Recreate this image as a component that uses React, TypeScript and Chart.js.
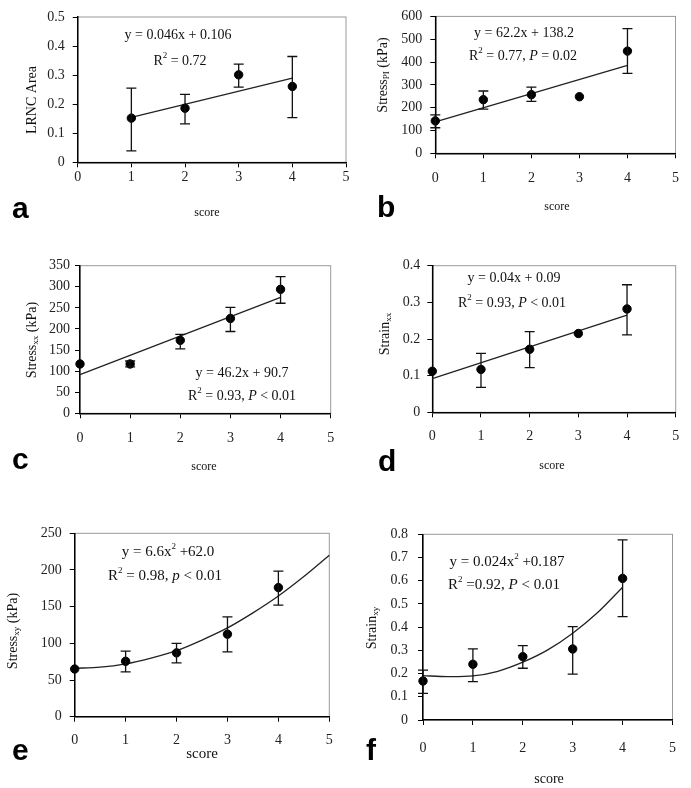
import React, { useEffect, useRef } from 'react';
import { Chart, registerables } from 'chart.js';
Chart.register(...registerables);

const PAGE_W = 691;
const PAGE_H = 788;
const SERIF = '"Liberation Serif", "Times New Roman", serif';
const SANS = '"Liberation Sans", Arial, sans-serif';

// ---- shared axis ----
const scoreTicks = [0, 1, 2, 3, 4, 5];

// ---- panel a: LRNC area ----
const aScore = [1, 2, 3, 4];
const aMean = [0.152, 0.186, 0.301, 0.261];
const aLo = [0.039, 0.132, 0.259, 0.154];
const aHi = [0.255, 0.234, 0.338, 0.364];
const aFitX = [1, 4];
const aFitY = [0.155, 0.29];

// ---- panel b: Stress PI ----
const bScore = [0, 1, 2, 3, 4];
const bMean = [142, 235, 257, 248, 448];
const bLo = [112, 194, 228, null, 350];
const bHi = [168, 273, 290, null, 546];
const bFitX = [0, 4];
const bFitY = [137.5, 385.5];

// ---- panel c: Stress xx ----
const cScore = [0, 1, 2, 3, 4];
const cMean = [117, 117, 173, 225, 294];
const cLo = [null, 110, 153, 194, 261];
const cHi = [null, 124, 187, 251, 324];
const cFitX = [0, 4];
const cFitY = [91.5, 275];

// ---- panel d: Strain xx ----
const dScore = [0, 1, 2, 3, 4];
const dMean = [0.112, 0.117, 0.172, 0.215, 0.282];
const dLo = [null, 0.068, 0.122, null, 0.211];
const dHi = [null, 0.161, 0.22, null, 0.348];
const dFitX = [0, 4];
const dFitY = [0.092, 0.265];

// ---- panel e: Stress xy ----
const eScore = [0, 1, 2, 3, 4];
const eMean = [65, 75.5, 87, 112.5, 176];
const eLo = [null, 61, 73.5, 88.5, 152];
const eHi = [null, 89.5, 100, 136, 198.5];
const eFitX = [0, 0.5, 1, 1.5, 2, 2.5, 3, 3.5, 4, 4.5, 5];
const eFitY = [66, 67.5, 72, 80, 90, 104.5, 121, 141.5, 164.5, 191, 220];

// ---- panel f: Strain xy ----
const fScore = [0, 1, 2, 3, 4];
const fMean = [0.168, 0.24, 0.273, 0.306, 0.61];
const fLo = [0.115, 0.165, 0.223, 0.198, 0.445];
const fHi = [0.215, 0.306, 0.32, 0.402, 0.776];
const fFitX = [0, 0.5, 1, 1.5, 2, 2.5, 3, 3.5, 4];
const fFitY = [0.191, 0.187, 0.19, 0.21, 0.249, 0.302, 0.374, 0.463, 0.572];

type Seg = { t: string; i?: boolean; sup?: boolean; sub?: boolean };

function drawRich(ctx: CanvasRenderingContext2D, segs: Seg[], cx: number, cy: number, size: number) {
  const fontFor = (s: Seg) =>
    `${s.i ? 'italic ' : ''}${s.sup || s.sub ? Math.round(size * 0.62) : size}px ${SERIF}`;
  let total = 0;
  for (const s of segs) {
    ctx.font = fontFor(s);
    total += ctx.measureText(s.t).width;
  }
  let x = cx - total / 2;
  ctx.textBaseline = 'middle';
  ctx.textAlign = 'left';
  for (const s of segs) {
    ctx.font = fontFor(s);
    const dy = s.sup ? -size * 0.38 : s.sub ? size * 0.28 : 0;
    ctx.fillText(s.t, x, cy + dy);
    x += ctx.measureText(s.t).width;
  }
}

type Panel = {
  xs: number[]; ys: number[]; lo: (number | null)[]; hi: (number | null)[];
  fitX: number[]; fitY: number[]; curve: boolean;
  yMax: number; yStep: number;
  area: [number, number, number, number];
  xPad: number; yPad: number;
  yTitle: Seg[]; yTitlePos: [number, number];
  eq1: Seg[]; eq1Pos: [number, number];
  eq2: Seg[]; eq2Pos: [number, number]; eqSize: number;
  letter: string; letterPos: [number, number];
  scorePos: [number, number]; scoreSize: number;
};

const R2 = (rest: Seg[]): Seg[] => [{ t: 'R' }, { t: '2', sup: true }, ...rest];

const panels: Panel[] = [
  {
    xs: aScore, ys: aMean, lo: aLo, hi: aHi, fitX: aFitX, fitY: aFitY, curve: false,
    yMax: 0.5, yStep: 0.1, area: [77.7, 17, 346, 162.3], xPad: 2, yPad: 8,
    yTitle: [{ t: 'LRNC Area' }], yTitlePos: [32, 100],
    eq1: [{ t: 'y = 0.046x + 0.106' }], eq1Pos: [178, 35],
    eq2: R2([{ t: ' = 0.72' }]), eq2Pos: [180, 61], eqSize: 14,
    letter: 'a', letterPos: [12, 218], scorePos: [207, 213], scoreSize: 12,
  },
  {
    xs: bScore, ys: bMean, lo: bLo, hi: bHi, fitX: bFitX, fitY: bFitY, curve: false,
    yMax: 600, yStep: 100, area: [435.3, 10.7, 685, 153.3], xPad: 12, yPad: 8,
    yTitle: [{ t: 'Stress' }, { t: 'PI', sub: true }, { t: ' (kPa)' }], yTitlePos: [383, 75],
    eq1: [{ t: 'y = 62.2x + 138.2' }], eq1Pos: [524, 33],
    eq2: R2([{ t: ' = 0.77, ' }, { t: 'P', i: true }, { t: ' = 0.02' }]), eq2Pos: [523, 56], eqSize: 14,
    letter: 'b', letterPos: [377, 217], scorePos: [557, 207], scoreSize: 12,
  },
  {
    xs: cScore, ys: cMean, lo: cLo, hi: cHi, fitX: cFitX, fitY: cFitY, curve: false,
    yMax: 350, yStep: 50, area: [80, 265.7, 330.7, 413.3], xPad: 12, yPad: 5,
    yTitle: [{ t: 'Stress' }, { t: 'xx', sub: true }, { t: ' (kPa)' }], yTitlePos: [32, 340],
    eq1: [{ t: 'y = 46.2x + 90.7' }], eq1Pos: [242, 373],
    eq2: R2([{ t: ' = 0.93, ' }, { t: 'P', i: true }, { t: ' < 0.01' }]), eq2Pos: [242, 396], eqSize: 14,
    letter: 'c', letterPos: [12, 469], scorePos: [204, 467], scoreSize: 12,
  },
  {
    xs: dScore, ys: dMean, lo: dLo, hi: dHi, fitX: dFitX, fitY: dFitY, curve: false,
    yMax: 0.4, yStep: 0.1, area: [432.3, 265.7, 675.7, 412.3], xPad: 11, yPad: 7,
    yTitle: [{ t: 'Strain' }, { t: 'xx', sub: true }], yTitlePos: [385, 334],
    eq1: [{ t: 'y = 0.04x + 0.09' }], eq1Pos: [514, 278],
    eq2: R2([{ t: ' = 0.93, ' }, { t: 'P', i: true }, { t: ' < 0.01' }]), eq2Pos: [512, 303], eqSize: 14,
    letter: 'd', letterPos: [378, 471], scorePos: [552, 466], scoreSize: 12,
  },
  {
    xs: eScore, ys: eMean, lo: eLo, hi: eHi, fitX: eFitX, fitY: eFitY, curve: true,
    yMax: 250, yStep: 50, area: [74.7, 533.3, 329.3, 716.7], xPad: 10, yPad: 8,
    yTitle: [{ t: 'Stress' }, { t: 'xy', sub: true }, { t: ' (kPa)' }], yTitlePos: [13, 631],
    eq1: [{ t: 'y = 6.6x' }, { t: '2', sup: true }, { t: ' +62.0' }], eq1Pos: [168, 552],
    eq2: R2([{ t: ' = 0.98, ' }, { t: 'p', i: true }, { t: ' < 0.01' }]), eq2Pos: [165, 576], eqSize: 15,
    letter: 'e', letterPos: [12, 760], scorePos: [202, 754], scoreSize: 15,
  },
  {
    xs: fScore, ys: fMean, lo: fLo, hi: fHi, fitX: fFitX, fitY: fFitY, curve: true,
    yMax: 0.8, yStep: 0.1, area: [423, 534.3, 679, 720], xPad: 15, yPad: 10,
    yTitle: [{ t: 'Strain' }, { t: 'xy', sub: true }], yTitlePos: [372, 628],
    eq1: [{ t: 'y = 0.024x' }, { t: '2', sup: true }, { t: ' +0.187' }], eq1Pos: [507, 562],
    eq2: R2([{ t: ' =0.92, ' }, { t: 'P', i: true }, { t: ' < 0.01' }]), eq2Pos: [504, 585], eqSize: 15,
    letter: 'f', letterPos: [366, 760], scorePos: [549, 779], scoreSize: 14,
  },
];

const YW = 40;
const XH = 50;

function PanelChart({ p }: { p: Panel }) {
  const ref = useRef<HTMLCanvasElement | null>(null);
  useEffect(() => {
    if (!ref.current) return;
    const [L, T, R, B] = p.area;
    const deco = {
      id: 'deco',
      beforeDraw(chart: any) {
        const { ctx, chartArea: a } = chart;
        ctx.save();
        ctx.strokeStyle = '#9a9a9a';
        ctx.lineWidth = 1;
        ctx.strokeRect(a.left, a.top, a.right - a.left, a.bottom - a.top);
        ctx.restore();
      },
      afterDatasetsDraw(chart: any) {
        const { ctx } = chart;
        const xs = chart.scales.x;
        const ys = chart.scales.y;
        ctx.save();
        ctx.strokeStyle = '#111';
        ctx.lineWidth = 1.3;
        p.xs.forEach((xv, i) => {
          const lo = p.lo[i];
          const hi = p.hi[i];
          if (lo == null || hi == null) return;
          const x = xs.getPixelForValue(xv);
          const y1 = ys.getPixelForValue(lo);
          const y2 = ys.getPixelForValue(hi);
          ctx.beginPath();
          ctx.moveTo(x, y1); ctx.lineTo(x, y2);
          ctx.moveTo(x - 5, y1); ctx.lineTo(x + 5, y1);
          ctx.moveTo(x - 5, y2); ctx.lineTo(x + 5, y2);
          ctx.stroke();
        });
        ctx.restore();
      },
      afterDraw(chart: any) {
        const { ctx } = chart;
        ctx.save();
        ctx.fillStyle = '#111';
        drawRich(ctx, p.eq1, p.eq1Pos[0], p.eq1Pos[1], p.eqSize);
        drawRich(ctx, p.eq2, p.eq2Pos[0], p.eq2Pos[1], p.eqSize);
        ctx.save();
        ctx.translate(p.yTitlePos[0], p.yTitlePos[1]);
        ctx.rotate(-Math.PI / 2);
        drawRich(ctx, p.yTitle, 0, 0, 14);
        ctx.restore();
        drawRich(ctx, [{ t: 'score' }], p.scorePos[0], p.scorePos[1], p.scoreSize);
        ctx.font = `bold 30px ${SANS}`;
        ctx.textAlign = 'left';
        ctx.textBaseline = 'alphabetic';
        ctx.fillStyle = '#000';
        ctx.fillText(p.letter, p.letterPos[0], p.letterPos[1]);
        ctx.restore();
      },
    };
    const chart = new Chart(ref.current, {
      type: 'scatter',
      data: {
        datasets: [
          {
            type: 'scatter',
            data: p.xs.map((x, i) => ({ x, y: p.ys[i] })),
            backgroundColor: '#000',
            borderColor: '#000',
            pointRadius: 4.2,
            pointHoverRadius: 4.2,
            clip: false,
            order: 1,
          } as any,
          {
            type: 'line',
            data: p.fitX.map((x, i) => ({ x, y: p.fitY[i] })),
            borderColor: '#222',
            borderWidth: 1.3,
            pointRadius: 0,
            fill: false,
            showLine: true,
            cubicInterpolationMode: 'default',
            tension: p.curve ? 0.3 : 0,
            clip: false,
            order: 2,
          } as any,
        ],
      },
      options: {
        responsive: false,
        animation: false,
        devicePixelRatio: 1,
        events: [],
        layout: {
          padding: { left: L - YW, top: T, right: PAGE_W - R, bottom: PAGE_H - B - XH },
        },
        plugins: { legend: { display: false }, tooltip: { enabled: false } },
        scales: {
          x: {
            type: 'linear',
            min: scoreTicks[0],
            max: scoreTicks[scoreTicks.length - 1],
            ticks: { stepSize: 1, color: '#222', padding: p.xPad, font: { family: SERIF, size: 14 } },
            grid: { drawOnChartArea: false, drawTicks: true, tickLength: 5, color: '#000' },
            border: { display: true, color: '#000', width: 1.5 },
            afterFit: (s: any) => { s.height = XH; },
          },
          y: {
            type: 'linear',
            min: 0,
            max: p.yMax,
            ticks: { stepSize: p.yStep, color: '#222', padding: p.yPad, font: { family: SERIF, size: 14 } },
            grid: { drawOnChartArea: false, drawTicks: true, tickLength: 5, color: '#000' },
            border: { display: true, color: '#000', width: 1.5 },
            afterFit: (s: any) => { s.width = YW; },
          },
        },
      },
      plugins: [deco],
    } as any);
    return () => chart.destroy();
  }, [p]);
  return (
    <canvas
      ref={ref}
      width={PAGE_W}
      height={PAGE_H}
      style={{ position: 'absolute', left: 0, top: 0, width: PAGE_W, height: PAGE_H, pointerEvents: 'none' }}
    />
  );
}

export default function App() {
  return (
    <div style={{ position: 'absolute', left: 0, top: 0, width: PAGE_W, height: PAGE_H, background: '#fff', overflow: 'hidden' }}>
      {panels.map((p, i) => (
        <PanelChart key={i} p={p} />
      ))}
    </div>
  );
}
